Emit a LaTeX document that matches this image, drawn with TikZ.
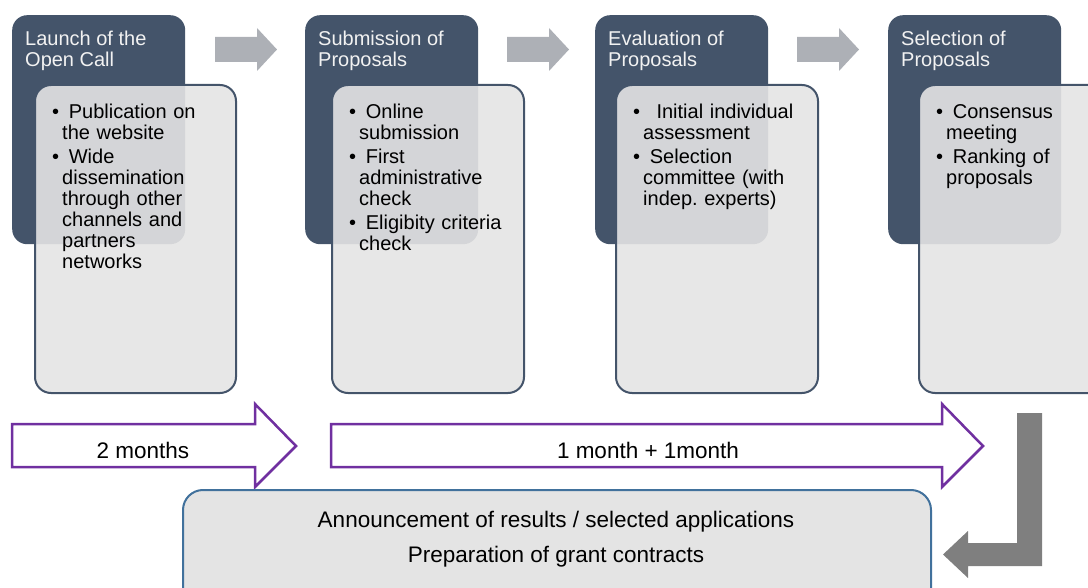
\documentclass[tikz,border=0pt]{standalone}
\usepackage{fontspec}
\setmainfont{Liberation Sans}
\usetikzlibrary{positioning}
\definecolor{slate}{HTML}{44546A}
\definecolor{paper}{HTML}{E4E4E4}
\definecolor{plum}{HTML}{7030A0}
\definecolor{steel}{HTML}{41719C}
\definecolor{mist}{HTML}{ADB0B6}
\definecolor{iron}{HTML}{7F7F7F}
\newcommand{\nextline}{\hfil\break}
\newcommand{\bul}[1]{\par\parskip=3pt\relax\hangindent=10pt\relax\hangafter=1\relax\noindent\hbox to 10pt{\textbullet\hss}\ #1}
\begin{document}
\begin{tikzpicture}[x=1pt,y=-1pt,
  every node/.style={font=\fontsize{20}{21}\selectfont,inner sep=0pt},
  stage/.style={fill=slate,rounded corners=15pt,anchor=north west,minimum width=173pt,minimum height=229pt},
  card/.style={draw=slate,line width=2pt,fill=paper,fill opacity=0.9,rounded corners=16pt,anchor=north west,minimum width=#1,minimum height=308pt},
  title/.style={text=white!95!black,align=left,below right=16pt and 13pt of #1},
  items/.style={text width=190pt,below right=10pt and 18pt of #1},
  big/.style={font=\fontsize{22.5}{24}\selectfont},
  span/.style={draw=plum,line width=2.5pt,fill=white}]
\clip (0,0) rectangle (1088,588);
\node[stage] (call) at (12,15) {};
\node[stage] (submit) at (305,15) {};
\node[stage] (evaluate) at (595,15) {};
\node[stage] (select) at (888,15) {};
\node[title=call.north west] (calltitle) {Launch of the\\Open Call};
\node[title=submit.north west] (submittitle) {Submission of\\Proposals};
\node[title=evaluate.north west] (evaluatetitle) {Evaluation of\\Proposals};
\node[title=select.north west] (selecttitle) {Selection of\\Proposals};
\node[card=201pt] (callcard) at (34,84) {};
\node[card=192pt] (submitcard) at (331,84) {};
\node[card=202pt] (evaluatecard) at (615,84) {};
\node[card=200pt] (selectcard) at (918,84) {};
\node[items=callcard.north west] (callitems) {\bul{Publication on\nextline the website}\bul{Wide\nextline dissemination\nextline through other\nextline channels and\nextline partners\nextline networks}\par};
\node[items=submitcard.north west] (submititems) {\bul{Online\nextline submission}\bul{First\nextline administrative\nextline check}\bul{Eligibity criteria\nextline check}\par};
\node[items=evaluatecard.north west] (evaluateitems) {\bul{\ Initial individual\nextline assessment}\bul{Selection\nextline committee (with\nextline indep.\ experts)}\par};
\node[items=selectcard.north west] (selectitems) {\bul{Consensus\nextline meeting}\bul{Ranking of\nextline proposals}\par};
\foreach \x in {215,507,797}
  \fill[mist] (\x,37) -- ({\x+42},37) -- ({\x+42},28) -- ({\x+62},49.5) -- ({\x+42},71) -- ({\x+42},62) -- (\x,62) -- cycle;
\draw[span] (12,424) -- (255,424) -- (255,404) -- (296,446) -- (255,487) -- (255,467) -- (12,467) -- cycle;
\draw[span] (331,424) -- (942,424) -- (942,404) -- (983,446) -- (942,487) -- (942,467) -- (331,467) -- cycle;
\node[big] (twomonths) at (143,450) {2 months};
\node[big] (onemonth) at (648,450) {1 month + 1month};
\node[draw=steel,line width=2pt,fill=paper,rounded corners=20pt,anchor=north west,minimum width=748pt,minimum height=130pt] (result) at (182,489) {};
\node[big,anchor=base] (announce) at (556,527) {Announcement of results / selected applications};
\node[big,anchor=base] (contracts) at (556,562) {Preparation of grant contracts};
\fill[iron] (1017,413) -- (1042,413) -- (1042,566) -- (968,566) -- (968,578) -- (943,554.5) -- (968,531) -- (968,543) -- (1017,543) -- cycle;
\end{tikzpicture}
\end{document}
